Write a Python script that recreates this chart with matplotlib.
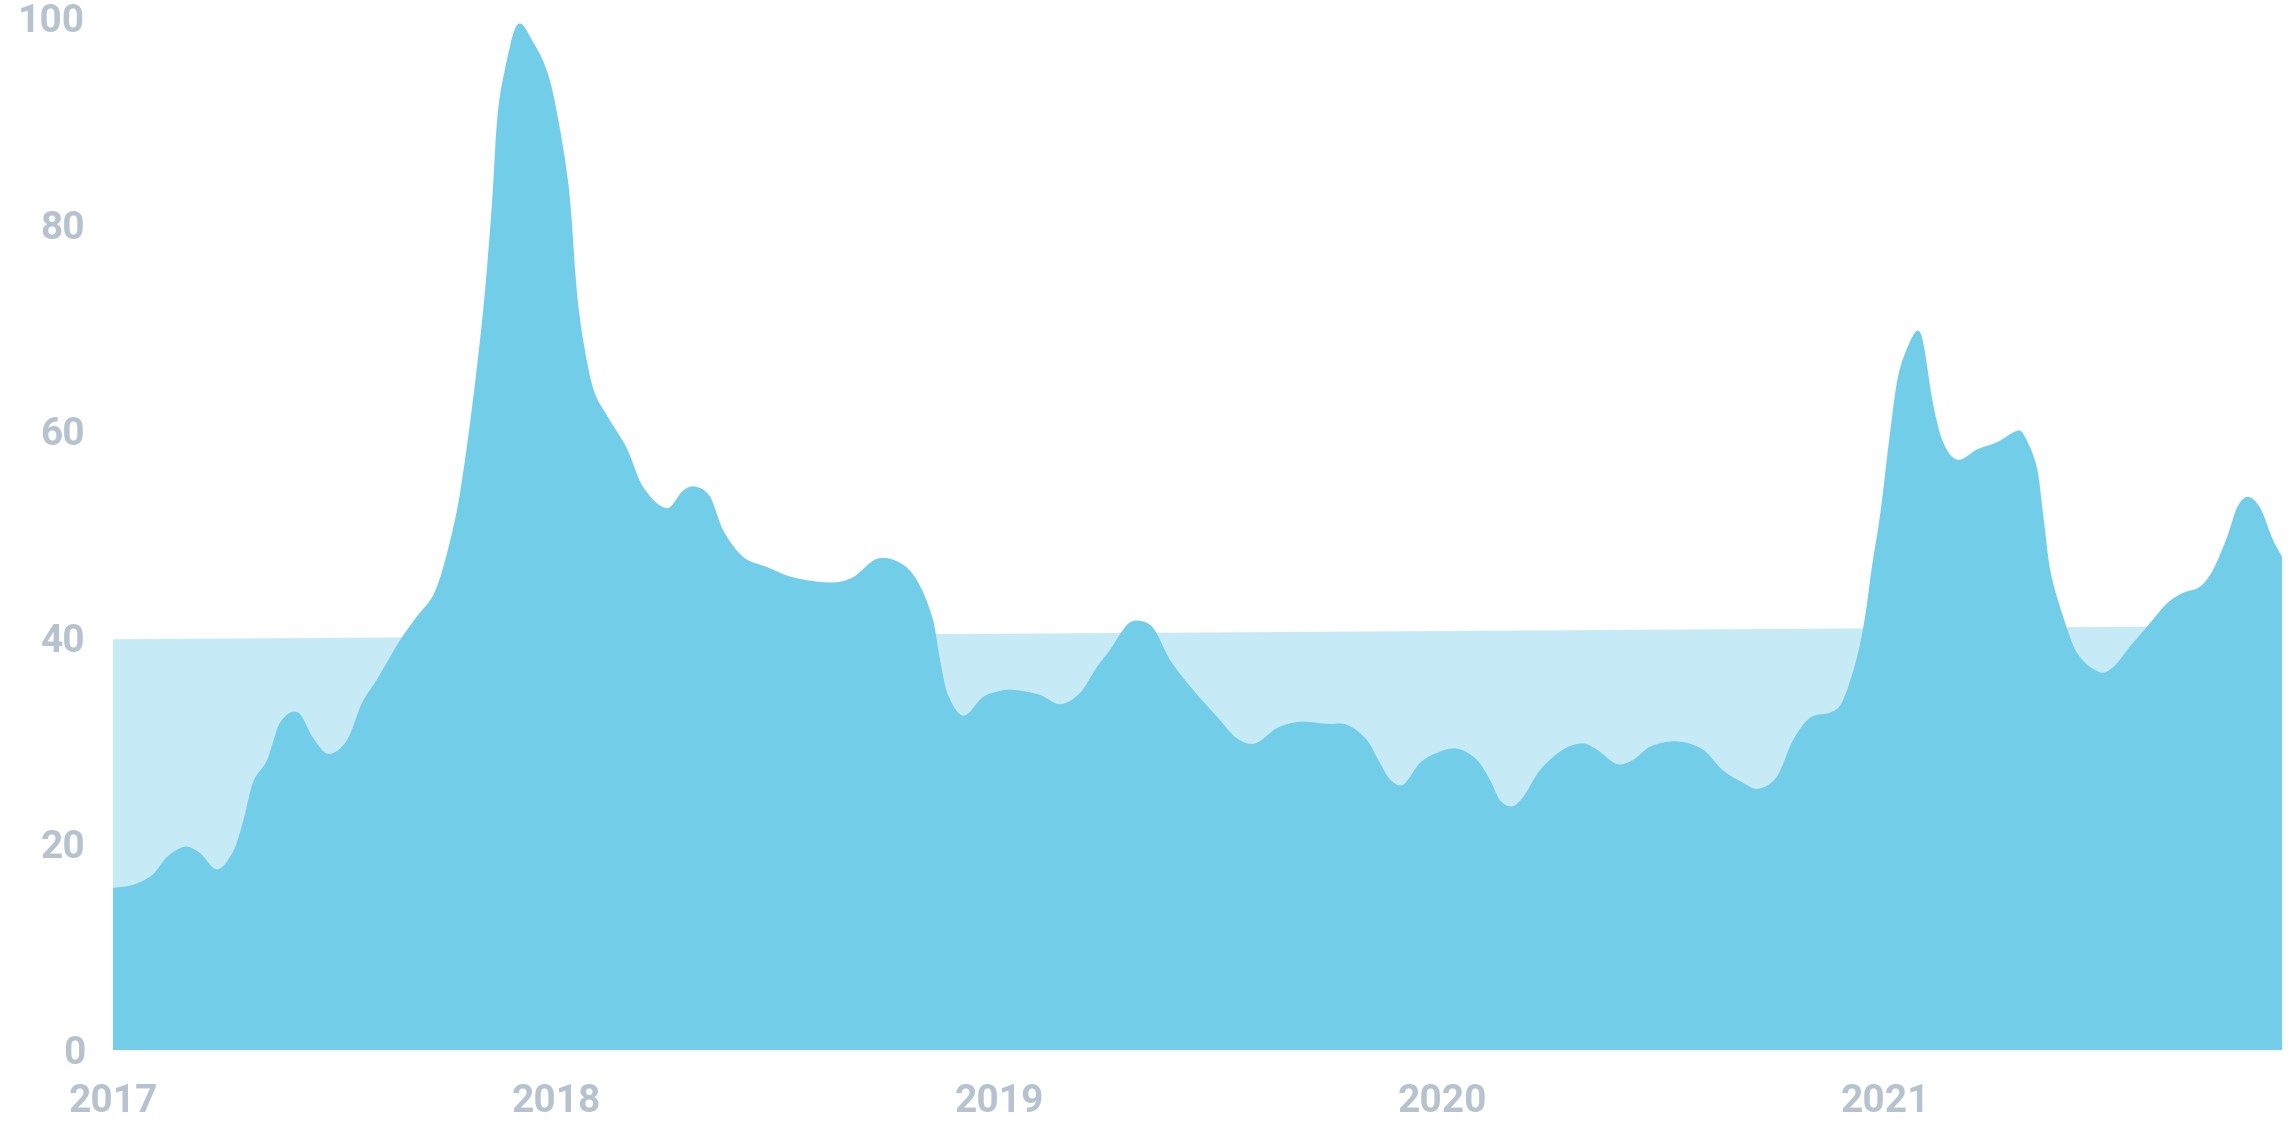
import numpy as np
import matplotlib
matplotlib.use("Agg")
import matplotlib.pyplot as plt
from matplotlib.path import Path
from matplotlib.patches import PathPatch, Polygon

# position in years after 2017-01-01
t = [0.000, 0.045, 0.090, 0.122, 0.163, 0.196, 0.235, 0.271, 0.293, 0.316,
     0.348, 0.377, 0.418, 0.451, 0.485, 0.528, 0.562, 0.596, 0.648, 0.686,
     0.722, 0.745, 0.777, 0.799, 0.822, 0.840, 0.856, 0.867, 0.880, 0.912,
     0.948, 0.986, 1.016, 1.032, 1.047, 1.061, 1.084, 1.115, 1.160, 1.196,
     1.251, 1.287, 1.314, 1.348, 1.377, 1.422, 1.476, 1.535, 1.623, 1.670,
     1.725, 1.777, 1.815, 1.851, 1.867, 1.883, 1.919, 1.964, 2.002, 2.032,
     2.093, 2.138, 2.183, 2.221, 2.251, 2.289, 2.314, 2.348, 2.386, 2.438,
     2.492, 2.537, 2.578, 2.628, 2.679, 2.740, 2.786, 2.831, 2.860, 2.883,
     2.912, 2.950, 2.989, 3.034, 3.079, 3.108, 3.131, 3.158, 3.183, 3.221,
     3.273, 3.318, 3.350, 3.395, 3.431, 3.470, 3.531, 3.589, 3.634, 3.679,
     3.713, 3.756, 3.792, 3.831, 3.876, 3.903, 3.937, 3.955, 3.971, 3.989,
     4.011, 4.029, 4.056, 4.074, 4.086, 4.108, 4.131, 4.163, 4.208, 4.253,
     4.298, 4.312, 4.343, 4.357, 4.372, 4.402, 4.433, 4.485, 4.515, 4.553,
     4.591, 4.637, 4.673, 4.711, 4.740, 4.772, 4.795, 4.819, 4.847, 4.876,
     4.896]
values = [15.7, 16.0, 17.0, 18.7, 19.7, 19.1, 17.5, 19.2, 22.0, 25.9,
          28.1, 31.7, 32.7, 30.3, 28.7, 30.0, 33.6, 35.9, 39.7, 42.0,
          44.0, 46.7, 52.4, 58.5, 66.3, 73.6, 82.3, 90.0, 94.0, 99.3,
          97.7, 94.0, 87.5, 82.3, 73.6, 68.9, 64.1, 61.5, 58.3, 54.6,
          52.5, 54.2, 54.6, 53.6, 50.4, 47.8, 46.8, 45.8, 45.3, 45.8,
          47.6, 47.2, 45.5, 41.7, 37.8, 34.6, 32.4, 34.2, 34.8, 34.9,
          34.4, 33.5, 34.6, 37.1, 38.8, 41.2, 41.6, 40.9, 37.8, 34.9,
          32.3, 30.2, 29.7, 31.2, 31.8, 31.6, 31.5, 30.0, 27.8, 26.2,
          25.7, 27.8, 28.8, 29.2, 28.1, 26.2, 24.2, 23.6, 24.5, 27.1,
          29.1, 29.7, 29.1, 27.7, 28.1, 29.4, 29.9, 29.1, 27.1, 25.9,
          25.3, 26.5, 30.0, 32.2, 32.7, 33.7, 38.1, 42.0, 47.0, 51.9,
          59.7, 65.2, 68.6, 69.7, 68.6, 62.7, 58.9, 57.2, 58.2, 58.9,
          60.0, 59.7, 56.4, 51.9, 46.7, 42.0, 38.5, 36.6, 37.1, 39.1,
          41.0, 43.3, 44.3, 44.9, 46.5, 49.7, 52.6, 53.6, 52.5, 49.4,
          47.8]
trend_start = 39.8
trend_end = 41.1
years = [2017, 2018, 2019, 2020, 2021]
yticks = [0, 20, 40, 60, 80, 100]

x = 2017 + np.array(t)
y = np.array(values)


def smooth_path(x, y):
    # cubic bezier through the points (centred tangents), closed down to zero
    n = len(x)
    m = np.zeros(n)
    m[1:-1] = (y[2:] - y[:-2]) / (x[2:] - x[:-2])
    m[0] = (y[1] - y[0]) / (x[1] - x[0])
    m[-1] = (y[-1] - y[-2]) / (x[-1] - x[-2])
    verts = [(x[0], 0), (x[0], y[0])]
    codes = [Path.MOVETO, Path.LINETO]
    for i in range(n - 1):
        d = (x[i + 1] - x[i]) / 3
        verts += [(x[i] + d, y[i] + d * m[i]), (x[i + 1] - d, y[i + 1] - d * m[i + 1]), (x[i + 1], y[i + 1])]
        codes += [Path.CURVE4] * 3
    verts += [(x[-1], 0), (x[0], 0)]
    codes += [Path.LINETO, Path.CLOSEPOLY]
    return Path(verts, codes)


fig = plt.figure(figsize=(22.9, 11.45), dpi=100)
ax = fig.add_axes([0.0493, 0.083, 0.9472, 0.9013])

band = Polygon([(x[0], 0), (x[0], trend_start), (x[-1], trend_end), (x[-1], 0)],
               closed=True, facecolor='#c7eaf7', edgecolor='none')
ax.add_patch(band)
ax.add_patch(PathPatch(smooth_path(x, y), facecolor='#72cde8', edgecolor='none'))

ax.set_xlim(x[0], x[-1])
ax.set_ylim(0, 100)
for sp in ax.spines.values():
    sp.set_visible(False)

label_color = '#b6c3cf'
ax.set_xticks(years)
ax.set_xticklabels([str(v) for v in years])
ax.set_yticks(yticks)
ax.set_yticklabels([str(v) for v in yticks])
ax.tick_params(axis='both', length=0, labelsize=28, labelcolor=label_color)
ax.tick_params(axis='y', pad=20)
ax.tick_params(axis='x', pad=24)
for lbl in ax.get_xticklabels() + ax.get_yticklabels():
    lbl.set_fontfamily(['Roboto', 'DejaVu Sans'])
    lbl.set_fontweight('bold')

fig.savefig('out.png', dpi=100)
